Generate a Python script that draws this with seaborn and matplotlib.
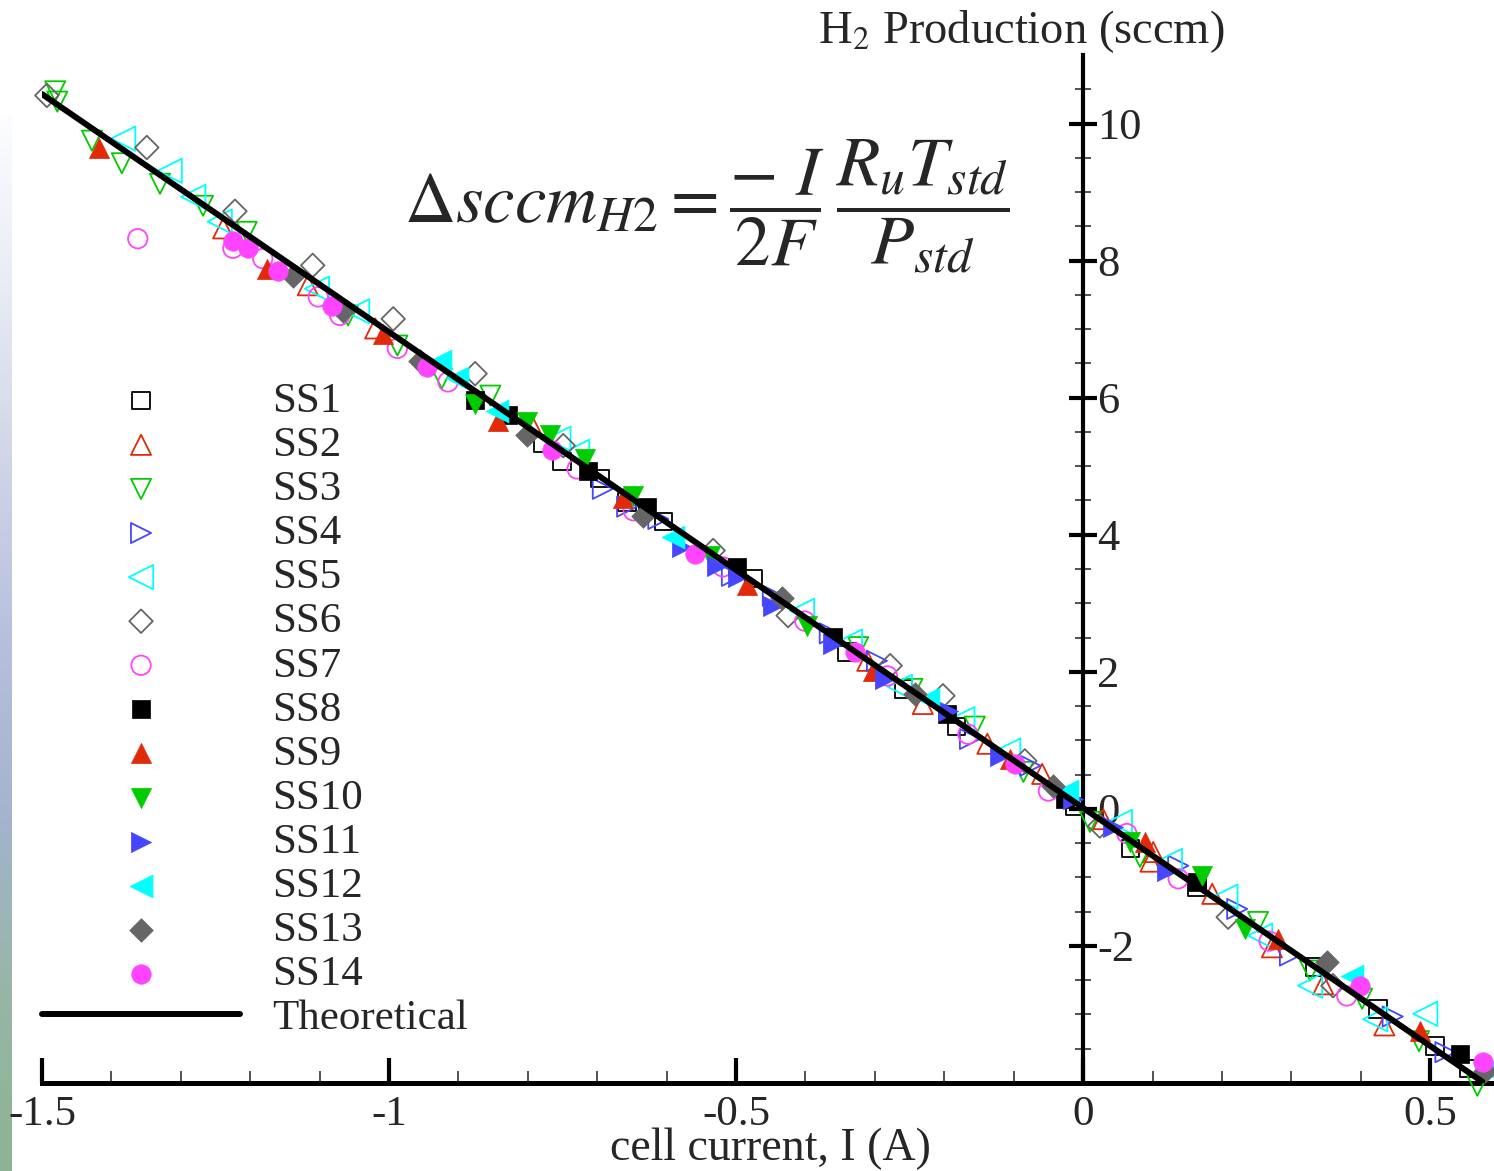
import matplotlib
matplotlib.use("Agg")
import matplotlib.pyplot as plt
import numpy as np
import seaborn as sns
from matplotlib.colors import LinearSegmentedColormap
from matplotlib.ticker import FixedLocator

# cell current (A) and H2 production (sccm), one pair of lists per run
ss1_x = [-0.778, -0.751, -0.696, -0.657, -0.605, -0.475, -0.340, -0.259, -0.182, -0.012, 0.068, 0.164, 0.333, 0.425, 0.507, 0.556]
ss1_y = [5.33, 5.07, 4.82, 4.48, 4.19, 3.36, 2.29, 1.75, 1.20, 0.03, -0.58, -1.14, -2.31, -2.92, -3.46, -3.79]
ss2_x = [-1.239, -1.117, -1.020, -0.794, -0.311, -0.231, -0.138, -0.059, 0.029, 0.097, 0.101, 0.186, 0.272, 0.346, 0.434]
ss2_y = [8.47, 7.64, 7.01, 5.59, 2.16, 1.53, 0.95, 0.51, -0.15, -0.77, -0.63, -1.24, -2.02, -2.56, -3.16]
ss3_x = [-1.481, -1.478, -1.428, -1.385, -1.330, -1.268, -1.205, -1.059, -0.988, -0.924, -0.854, -0.324, -0.246, -0.156, -0.086, 0.010, 0.082, 0.252, 0.327, 0.402, 0.484, 0.568]
ss3_y = [10.47, 10.32, 9.75, 9.42, 9.12, 8.80, 8.42, 7.20, 6.76, 6.28, 6.03, 2.36, 1.75, 1.20, 0.54, -0.19, -0.70, -1.65, -2.36, -2.77, -3.39, -4.04]
ss4_x = [-0.692, -0.657, -0.612, -0.506, -0.447, -0.365, -0.297, -0.163, -0.076, 0.137, 0.222, 0.298, 0.446, 0.522]
ss4_y = [4.67, 4.41, 4.23, 3.40, 3.11, 2.56, 2.16, 1.02, 0.63, -0.83, -1.46, -2.14, -3.03, -3.55]
ss5_x = [-1.383, -1.316, -1.282, -1.244, -1.104, -1.046, -0.756, -0.729, -0.405, -0.336, -0.264, -0.174, -0.108, 0.053, 0.125, 0.205, 0.255, 0.327, 0.421, 0.493]
ss5_y = [9.78, 9.31, 8.93, 8.57, 7.59, 7.26, 5.40, 5.21, 2.89, 2.44, 1.78, 1.31, 0.85, -0.19, -0.76, -1.28, -1.85, -2.58, -3.07, -2.99]
ss6_x = [-1.493, -1.349, -1.222, -1.110, -0.994, -0.876, -0.749, -0.533, -0.425, -0.278, -0.202, -0.084, 0.024, 0.209, 0.360]
ss6_y = [10.41, 9.65, 8.72, 7.93, 7.15, 6.35, 5.30, 3.77, 2.82, 2.09, 1.65, 0.70, -0.25, -1.58, -2.58]
ss7_x = [-1.362, -1.225, -1.182, -1.102, -1.071, -0.988, -0.915, -0.729, -0.648, -0.519, -0.401, -0.282, -0.166, -0.050, 0.063, 0.137, 0.268, 0.380]
ss7_y = [8.32, 8.18, 8.03, 7.47, 7.20, 6.72, 6.23, 4.96, 4.35, 3.53, 2.74, 1.94, 1.09, 0.26, -0.36, -1.02, -1.93, -2.73]
ss8_x = [-0.876, -0.828, -0.713, -0.628, -0.499, -0.360, -0.196, -0.026, 0.164, 0.543]
ss8_y = [5.96, 5.74, 4.93, 4.41, 3.53, 2.51, 1.39, 0.15, -1.07, -3.58]
ss9_x = [-1.418, -1.176, -1.009, -0.843, -0.663, -0.484, -0.303, -0.105, 0.089, 0.281, 0.486]
ss9_y = [9.64, 7.88, 6.93, 5.66, 4.53, 3.26, 2.01, 0.73, -0.48, -1.90, -3.24]
ss10_x = [-0.876, -0.801, -0.768, -0.718, -0.648, -0.537, -0.398, 0.068, 0.171, 0.233]
ss10_y = [5.91, 5.65, 5.45, 5.11, 4.57, 3.69, 2.67, -0.48, -0.98, -1.75]
ss11_x = [-0.578, -0.527, -0.497, -0.447, -0.360, -0.285, -0.195, -0.120, -0.014, 0.043, 0.121]
ss11_y = [3.82, 3.55, 3.39, 2.96, 2.41, 1.90, 1.43, 0.77, 0.15, -0.26, -0.91]
ss12_x = [-0.927, -0.902, -0.844, -0.591, -0.223, -0.023, 0.387, 0.584]
ss12_y = [6.53, 6.28, 5.80, 3.97, 1.61, 0.26, -2.44, -3.80]
ss13_x = [-1.138, -1.066, -0.955, -0.801, -0.634, -0.434, -0.242, -0.043, 0.351, 0.579]
ss13_y = [7.77, 7.26, 6.54, 5.45, 4.28, 3.07, 1.68, 0.34, -2.23, -3.82]
ss14_x = [-1.225, -1.203, -1.160, -1.082, -0.945, -0.765, -0.559, -0.329, -0.098, 0.399, 0.576]
ss14_y = [8.29, 8.18, 7.85, 7.34, 6.45, 5.23, 3.72, 2.29, 0.66, -2.58, -3.69]

theory_x = [-1.5, 0.575]
theory_y = [10.43, -3.98]

series_names = ["SS1", "SS2", "SS3", "SS4", "SS5", "SS6", "SS7",
                "SS8", "SS9", "SS10", "SS11", "SS12", "SS13", "SS14"]
series_x = [ss1_x, ss2_x, ss3_x, ss4_x, ss5_x, ss6_x, ss7_x,
            ss8_x, ss9_x, ss10_x, ss11_x, ss12_x, ss13_x, ss14_x]
series_y = [ss1_y, ss2_y, ss3_y, ss4_y, ss5_y, ss6_y, ss7_y,
            ss8_y, ss9_y, ss10_y, ss11_y, ss12_y, ss13_y, ss14_y]

xtick_vals = [-1.5, -1, -0.5, 0, 0.5]
xtick_labels = ["-1.5", "-1", "-0.5", "0", "0.5"]
ytick_vals = [-2, 0, 2, 4, 6, 8, 10]
ytick_labels = ["-2", "0", "2", "4", "6", "8", "10"]

# open markers for SS1-7, the same shapes filled for SS8-14
colors = ["#000000", "#e02a0a", "#00cc00", "#4646ff", "#00ffff", "#666666", "#ff44ff"]
markers = ["s", "^", "v", ">", "<", "D", "o"]
sizes_open = [12.5, 14.5, 14.5, 14.5, 17.5, 12, 14]
sizes_filled = [12.5, 14.5, 14.5, 14.5, 16.5, 12, 14]

sns.set_style("white")
plt.rcParams["font.family"] = ["Liberation Serif", "DejaVu Serif"]
plt.rcParams["mathtext.fontset"] = "stix"

W, H = 1494, 1171
fig = plt.figure(figsize=(W / 100, H / 100), dpi=100)

# faint gradient strip at the very left edge of the screenshot
strip = fig.add_axes([0, 0, 12 / W, (H - 115) / H])
strip_cmap = LinearSegmentedColormap.from_list(
    "strip", ["#fcfdff", "#e8ebf4", "#cfd4e7", "#b7bfdc", "#a3b4cc", "#97b6a6", "#8cb494"])
strip.imshow(np.linspace(0, 1, 256)[:, None], aspect="auto", cmap=strip_cmap)
strip.axis("off")

ax = fig.add_axes([42 / W, 1 - 1083 / H, 1 - 42 / W, (1083 - 55) / H])
ax.set_facecolor("none")

for i, name in enumerate(series_names):
    k = i % 7
    c = colors[k]
    if i < 7:
        sns.scatterplot(x=series_x[i], y=series_y[i], ax=ax, marker=markers[k],
                        s=sizes_open[k] ** 2, facecolor="none", edgecolor=c,
                        linewidth=1.3, label=name, clip_on=False, zorder=3)
    else:
        sns.scatterplot(x=series_x[i], y=series_y[i], ax=ax, marker=markers[k],
                        s=sizes_filled[k] ** 2, color=c, edgecolor=c,
                        linewidth=0.5, label=name, clip_on=False, zorder=3)

sns.lineplot(x=theory_x, y=theory_y, ax=ax, color="black", linewidth=4.3,
             label="Theoretical", zorder=5)

ax.set_xlim(-1.5, 0.592)
ax.set_ylim(-4.0, 11.0)

ax.spines["top"].set_visible(False)
ax.spines["right"].set_visible(False)
ax.spines["left"].set_position(("data", 0))
ax.spines["left"].set_linewidth(3.0)
ax.spines["bottom"].set_linewidth(3.6)
ax.spines["left"].set_color("black")
ax.spines["bottom"].set_color("black")

ax.set_xticks(xtick_vals, labels=xtick_labels)
ax.xaxis.set_minor_locator(FixedLocator(np.arange(-1.4, 0.6, 0.1)))
ax.tick_params(axis="x", which="major", direction="in", length=18, width=3,
               labelsize=31, pad=9, bottom=True, color="black")
ax.tick_params(axis="x", which="minor", direction="in", length=9, width=1.2,
               bottom=True, color="#333333")

ax.set_yticks(ytick_vals, labels=ytick_labels, ha="left")
ax.yaxis.set_minor_locator(FixedLocator(np.arange(-3.5, 11.0, 0.5)))
ax.tick_params(axis="y", which="major", direction="inout", length=20, width=3,
               labelsize=32, pad=-20, left=True, color="black")
ax.tick_params(axis="y", which="minor", direction="inout", length=11, width=1.2,
               left=True, color="#333333")

ax.set_xlabel("")
ax.set_ylabel("")
fig.text(770 / W, 1 / H, "cell current, I (A)", fontsize=33,
         ha="center", va="bottom")
ax.text(-0.089, 11.17, r"H$_2$ Production (sccm)", fontsize=33.5,
        ha="center", va="baseline")

ax.text(-0.542, 8.8,
        r"$\Delta sccm_{H2} = \dfrac{-\ I}{2F}\,\dfrac{R_uT_{std}}{P_{std}}$",
        fontsize=51, ha="center", va="center")

handles, labels = ax.get_legend_handles_labels()
ax.legend(handles, labels, loc="upper left", bbox_to_anchor=(0.0, 0.682),
          frameon=False, fontsize=31, handlelength=4.6, handletextpad=0.75,
          labelspacing=0.115, borderpad=0, borderaxespad=0, scatterpoints=1)

fig.savefig("out.png", dpi=100)
